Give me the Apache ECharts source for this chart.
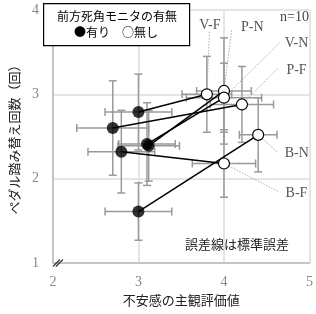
<!DOCTYPE html>
<html><head><meta charset="utf-8">
<script src="https://cdn.jsdelivr.net/npm/echarts@6/dist/echarts.min.js"></script>
<style>html,body{margin:0;padding:0;background:#fff}#c{width:316px;height:314px}</style>
</head><body><div id="c"></div>
<script>
const conditions = ['V-F','P-N','V-N','P-F','B-N','B-F'];
const withX = [3.00, 3.12, 3.10, 2.70, 3.00, 2.80];
const withY = [2.79, 2.39, 2.41, 2.60, 1.61, 2.32];
const withXErr = [0.39, 0.36, 0.33, 0.42, 0.39, 0.39];
const withYErr = [0.45, 0.42, 0.49, 0.56, 0.34, 0.49];
const withoutX = [3.80, 4.00, 4.00, 4.21, 4.40, 4.00];
const withoutY = [3.00, 3.04, 2.96, 2.88, 2.52, 2.18];
const withoutXErr = [0.29, 0.32, 0.44, 0.37, 0.22, 0.37];
const withoutYErr = [0.45, 0.63, 0.41, 0.45, 0.44, 0.40];
// annotation label anchors (data coords)
const labelX = [3.71, 4.20, 4.71, 4.73, 4.71, 4.72];
const labelY = [3.82, 3.79, 3.61, 3.29, 2.30, 1.83];
const leaderX = [3.83, 4.09, 4.65, 4.63, 4.62, 4.63];
const leaderY = [3.74, 3.76, 3.61, 3.31, 2.32, 1.85];
const xTicks = [2, 3, 4, 5];
const yTicks = [1, 2, 3, 4];

const CJK = '"Noto Sans CJK JP", sans-serif';
const SERIF = '"Liberation Serif", serif';

const chart = echarts.init(document.getElementById('c'));

function errItem(params, api) {
  const x = api.value(0), y = api.value(1), ex = api.value(2), ey = api.value(3);
  const l = api.coord([x - ex, y]), r = api.coord([x + ex, y]);
  const t = api.coord([x, y + ey]), b = api.coord([x, y - ey]);
  const h = 4;
  const st = {stroke: '#9a9a9a', lineWidth: 1.5};
  const mk = (x1, y1, x2, y2) => ({type: 'line', shape: {x1, y1, x2, y2}, style: st});
  return {type: 'group', children: [
    mk(l[0], l[1], r[0], r[1]),
    mk(l[0], l[1] - h, l[0], l[1] + h),
    mk(r[0], r[1] - h, r[0], r[1] + h),
    mk(t[0], t[1], b[0], b[1]),
    mk(t[0] - h, t[1], t[0] + h, t[1]),
    mk(b[0] - h, b[1], b[0] + h, b[1])
  ]};
}

const errData = [];
conditions.forEach((c, i) => {
  errData.push([withX[i], withY[i], withXErr[i], withYErr[i]]);
  errData.push([withoutX[i], withoutY[i], withoutXErr[i], withoutYErr[i]]);
});

const labelData = conditions.map((c, i) => [labelX[i], labelY[i], leaderX[i], leaderY[i], withoutX[i], withoutY[i], c]);

const pairSeries = conditions.map((c, i) => ({
  type: 'line', name: 'pair-' + c, data: [[withX[i], withY[i]], [withoutX[i], withoutY[i]]],
  symbol: 'none', lineStyle: {color: '#000', width: 1.5}, z: 3, silent: true, animation: false
}));

chart.setOption({
  animation: false,
  grid: {left: 46, right: 4, top: 10, bottom: 51},
  xAxis: {
    type: 'value', min: 2, max: 5, interval: 1,
    name: '不安感の主観評価値', nameLocation: 'middle', nameGap: 27,
    nameTextStyle: {fontFamily: CJK, fontSize: 13, color: '#222'},
    axisLine: {show: true, lineStyle: {color: '#bbb', width: 1.5}},
    axisTick: {show: false},
    axisLabel: {fontFamily: SERIF, fontSize: 14, color: '#888', margin: 12},
    splitLine: {show: true, lineStyle: {color: '#ddd', width: 1.5}}
  },
  yAxis: {
    type: 'value', min: 1, max: 4, interval: 1,
    name: 'ペダル踏み替え回数（回）', nameLocation: 'middle', nameGap: 28, nameRotate: 90,
    nameTextStyle: {fontFamily: CJK, fontSize: 13, color: '#222'},
    axisLine: {show: true, lineStyle: {color: '#bbb', width: 1.5}},
    axisTick: {show: false},
    axisLabel: {fontFamily: SERIF, fontSize: 14, color: '#888', margin: 14},
    splitLine: {show: true, lineStyle: {color: '#ddd', width: 1.5}}
  },
  series: [
    {type: 'custom', name: 'err', renderItem: errItem, data: errData, z: 2, silent: true},
    {type: 'custom', name: 'labels', z: 1, silent: true, data: labelData,
      renderItem: function (params, api) {
        const p = api.coord([api.value(0), api.value(1)]);
        const s = api.coord([api.value(2), api.value(3)]);
        const e = api.coord([api.value(4), api.value(5)]);
        return {type: 'group', children: [
          {type: 'line', shape: {x1: s[0], y1: s[1], x2: e[0], y2: e[1]},
            style: {stroke: '#aaa', lineWidth: 1, lineDash: [1.5, 1.5]}},
          {type: 'text', x: p[0], y: p[1], style: {text: conditions[params.dataIndex], fontFamily: SERIF, fontSize: 14, fill: '#555', verticalAlign: 'middle', align: 'left'}}
        ]};
      }
    },
    ...pairSeries,
    {type: 'scatter', name: '有り', data: withX.map((x, i) => [x, withY[i]]), symbol: 'circle', symbolSize: 12,
      itemStyle: {color: '#000'}, z: 5},
    {type: 'scatter', name: '無し', data: withoutX.map((x, i) => [x, withoutY[i]]), symbol: 'circle', symbolSize: 11,
      itemStyle: {color: '#fff', borderColor: '#000', borderWidth: 1.2, opacity: 1}, z: 5}
  ]
});

// axis break mark at origin
const o = chart.convertToPixel({gridIndex: 0}, [2, 1]);
chart.setOption({graphic: [
  {type: 'rect', left: 43, top: 3, shape: {width: 146, height: 42}, style: {fill: '#fff', stroke: '#000', lineWidth: 1.2}, z: 10},
  {type: 'text', left: 57, top: 10, style: {text: '前方死角モニタの有無', fontFamily: CJK, fontSize: 12, fill: '#000'}, z: 11},
  {type: 'text', left: 74, top: 26, style: {text: '●有り　○無し', fontFamily: CJK, fontSize: 12, fill: '#000'}, z: 11},
  {type: 'text', left: 280, top: 10, style: {text: 'n=10', fontFamily: SERIF, fontSize: 14, fill: '#444'}, z: 11},
  {type: 'text', left: 185, top: 238, style: {text: '誤差線は標準誤差', fontFamily: CJK, fontSize: 13, fill: '#222'}, z: 11},
  {type: 'line', shape: {x1: o[0], y1: o[1] + 3.5, x2: o[0] + 7, y2: o[1] - 3.5}, style: {stroke: '#333', lineWidth: 1.2}, z: 11},
  {type: 'line', shape: {x1: o[0] + 3, y1: o[1] + 3.5, x2: o[0] + 10, y2: o[1] - 3.5}, style: {stroke: '#333', lineWidth: 1.2}, z: 11}
]});
</script></body></html>
